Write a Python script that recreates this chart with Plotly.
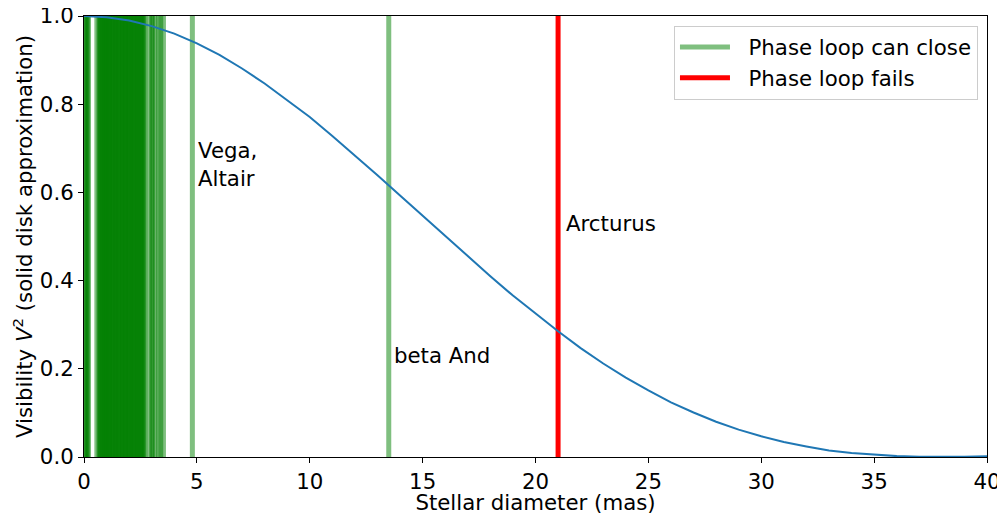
import plotly.graph_objects as go

# Visibility curve (diameter in mas -> V^2)
diam_mas = list(range(0, 41))
vis2 = [1.000, 0.997, 0.990, 0.977, 0.960, 0.938, 0.912, 0.881, 0.847, 0.810,
        0.771, 0.728, 0.684, 0.639, 0.593, 0.547, 0.500, 0.454, 0.410, 0.366,
        0.325, 0.285, 0.247, 0.212, 0.180, 0.151, 0.124, 0.101, 0.080, 0.062,
        0.047, 0.034, 0.024, 0.015, 0.0092, 0.0048, 0.0020, 0.0004, 0.0000,
        0.0005, 0.0016]

# Stars where the phase loop can close (diameters, mas)
ok_diams = [0.04, 0.08, 0.12, 0.16, 0.2, 0.57,
            0.66, 0.7, 0.73, 0.78, 0.81, 0.85, 0.9, 0.93, 0.97, 1.0, 1.04,
            1.08, 1.12, 1.15, 1.2, 1.24, 1.27, 1.31, 1.36, 1.4, 1.43, 1.47,
            1.52, 1.55, 1.6, 1.64, 1.68, 1.71, 1.75, 1.8, 1.84, 1.87, 1.92,
            1.96, 2.0, 2.03, 2.08, 2.12, 2.16, 2.2, 2.24, 2.28, 2.33, 2.37,
            2.41, 2.45, 2.5, 2.54, 2.58, 2.62, 2.66, 2.7,
            2.9, 3.0, 3.05, 3.15, 3.3, 3.4, 3.52, 4.8, 13.5]
# Stars where the phase loop fails
fail_diams = [21.0]

labels = [("Vega,<br>Altair", 5.0, 0.6), ("beta And", 13.7, 0.2), ("Arcturus", 21.3, 0.5)]

FONT = "DejaVu Sans"
FS = 21.3
NB = "\u00a0\u00a0"
fig = go.Figure()

for i, d in enumerate(ok_diams):
    fig.add_trace(go.Scatter(
        x=[d, d], y=[0, 1], mode="lines",
        line=dict(color="rgba(0,128,0,0.5)", width=5),
        name=NB + "Phase loop can close", legendgroup="ok",
        showlegend=(i == 0), hoverinfo="skip"))

for i, d in enumerate(fail_diams):
    fig.add_trace(go.Scatter(
        x=[d, d], y=[0, 1], mode="lines",
        line=dict(color="#ff0000", width=5),
        name=NB + "Phase loop fails", legendgroup="fail",
        showlegend=(i == 0), hoverinfo="skip"))

fig.add_trace(go.Scatter(
    x=diam_mas, y=vis2, mode="lines",
    line=dict(color="#1f77b4", width=2), showlegend=False))

for txt, x, y in labels:
    fig.add_annotation(x=x, y=y, text=txt, showarrow=False,
                       xanchor="left", yanchor="bottom", align="left",
                       font=dict(family=FONT, size=FS, color="black"),
                       borderpad=0)

axis_common = dict(showline=True, mirror=True, linecolor="black", linewidth=1,
                   ticks="outside", ticklen=5, tickcolor="black",
                   showgrid=False, zeroline=False, automargin=False,
                   ticklabeloverflow="allow",
                   tickfont=dict(family=FONT, size=FS, color="black"))

# page body has an 8px default margin, so the figure is sized to fit the window
fig.update_layout(
    width=997, height=507,
    margin=dict(l=76, r=18, t=8, b=58, autoexpand=False),
    paper_bgcolor="white", plot_bgcolor="white",
    font=dict(family=FONT, size=FS, color="black"),
    xaxis=dict(range=[0, 40], tickvals=[0, 5, 10, 15, 20, 25, 30, 35, 40],
               title=dict(text="Stellar diameter (mas)", standoff=0,
                          font=dict(family=FONT, size=FS)),
               **axis_common),
    yaxis=dict(range=[0, 1], tickvals=[0, 0.2, 0.4, 0.6, 0.8, 1.0],
               tickformat=".1f",
               title=dict(text="Visibility <i>V</i><sup>2</sup> (solid disk approximation)",
                          standoff=1, font=dict(family=FONT, size=FS)),
               **axis_common),
    legend=dict(x=0.99, y=0.978, xanchor="right", yanchor="top",
                bgcolor="white", bordercolor="#cccccc", borderwidth=1,
                itemwidth=50, tracegroupgap=0,
                font=dict(family=FONT, size=FS)),
)

fig.write_html("out.html")
